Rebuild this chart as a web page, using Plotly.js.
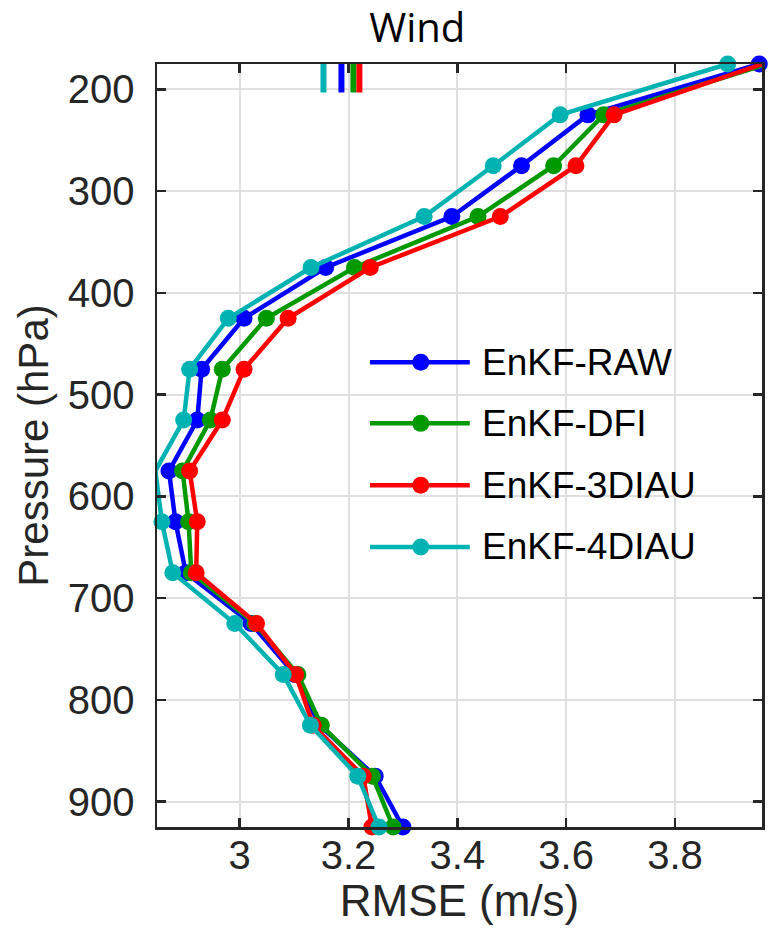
<!DOCTYPE html>
<html><head><meta charset="utf-8">
<script src="https://cdn.plot.ly/plotly-3.0.1.min.js"></script>
<style>body{margin:0;background:#fff}#chart{width:780px;height:928px}</style>
</head><body><div id="chart"></div><script>
const pressure = [175,225,275,325,375,425,475,525,575,625,675,725,775,825,875,925];
const rmseRAW   = [3.955,3.640,3.518,3.390,3.158,3.008,2.930,2.922,2.870,2.882,2.901,3.021,3.101,3.147,3.249,3.300];
const rmseDFI   = [3.970,3.669,3.577,3.438,3.211,3.049,2.968,2.946,2.895,2.906,2.911,3.028,3.107,3.150,3.244,3.282];
const rmse3DIAU = [3.961,3.688,3.618,3.479,3.240,3.089,3.008,2.968,2.908,2.922,2.920,3.031,3.103,3.135,3.227,3.243];
const rmse4DIAU = [3.897,3.589,3.466,3.339,3.131,2.979,2.908,2.897,2.845,2.857,2.877,2.991,3.080,3.130,3.217,3.256];
const seriesNames = ['EnKF-RAW','EnKF-DFI','EnKF-3DIAU','EnKF-4DIAU'];
const meanRMSE = [3.187,3.209,3.220,3.154];
const meanMarkP = [172,203];
const xTicks = [3,3.2,3.4,3.6,3.8];
const xTickText = ['3','3.2','3.4','3.6','3.8'];
const yTicks = [200,300,400,500,600,700,800,900];

const colors = ['#0000ff','#009900','#ff0000','#00b2b2'];
const series = [rmseRAW, rmseDFI, rmse3DIAU, rmse4DIAU];

const traces = [];
[3,0,1,2].forEach(i => {
  traces.push({x:[meanRMSE[i],meanRMSE[i]], y:meanMarkP, mode:'lines', type:'scatter',
    line:{color:colors[i], width:6}, showlegend:false, hoverinfo:'skip'});
});
series.forEach((s,i) => {
  traces.push({x:s, y:pressure, mode:'lines+markers', type:'scatter', name:seriesNames[i],
    line:{color:colors[i], width:4.5}, marker:{color:colors[i], size:17, symbol:'circle'},
    cliponaxis:false, showlegend:false});
});

const legRows = [0.609,0.529,0.448,0.367];
const shapes = [], annotations = [];
seriesNames.forEach((n,i) => {
  shapes.push({type:'line', xref:'paper', yref:'paper', x0:0.352, x1:0.517, y0:legRows[i], y1:legRows[i],
    line:{color:colors[i], width:4.5}});
  shapes.push({type:'circle', xref:'paper', yref:'paper', xsizemode:'pixel', ysizemode:'pixel',
    xanchor:0.436, yanchor:legRows[i], x0:-8.5, x1:8.5, y0:-8.5, y1:8.5,
    fillcolor:colors[i], line:{color:colors[i], width:0}});
  annotations.push({xref:'paper', yref:'paper', x:0.534, y:legRows[i], xanchor:'left', yanchor:'middle',
    text:n, showarrow:false, font:{family:'Liberation Sans, Arial, sans-serif', size:37, color:'#000'}});
});

const axisCommon = {showline:true, linecolor:'#262626', linewidth:2.5, mirror:'allticks',
  ticks:'inside', ticklen:9, tickwidth:2.5, tickcolor:'#262626',
  showgrid:true, gridcolor:'#dfdfdf', gridwidth:2, zeroline:false,
  tickfont:{family:'Liberation Sans, Arial, sans-serif', size:40, color:'#262626'}};

const layout = {
  width:780, height:928, paper_bgcolor:'#fff', plot_bgcolor:'#fff',
  margin:{l:157, r:18, t:64, b:101},
  title:{text:'Wind', x:0.535, xanchor:'center', y:0.97, yanchor:'middle',
    font:{family:'Open Sans, Noto Sans, sans-serif', size:40, color:'#000'}},
  xaxis:Object.assign({}, axisCommon, {range:[2.848,3.96], tickvals:xTicks, ticktext:xTickText,
    ticklabelstandoff:-9,
    title:{text:'RMSE (m/s)', standoff:2, font:{family:'Liberation Sans, Arial, sans-serif', size:44, color:'#262626'}}}),
  yaxis:Object.assign({}, axisCommon, {range:[925,175], tickvals:yTicks, ticklabelstandoff:12,
    title:{text:'Pressure (hPa)', standoff:6, font:{family:'Liberation Sans, Arial, sans-serif', size:42, color:'#262626'}}}),
  shapes:shapes, annotations:annotations, showlegend:false
};
Plotly.newPlot('chart', traces, layout, {displayModeBar:false, staticPlot:true});
</script></body></html>
